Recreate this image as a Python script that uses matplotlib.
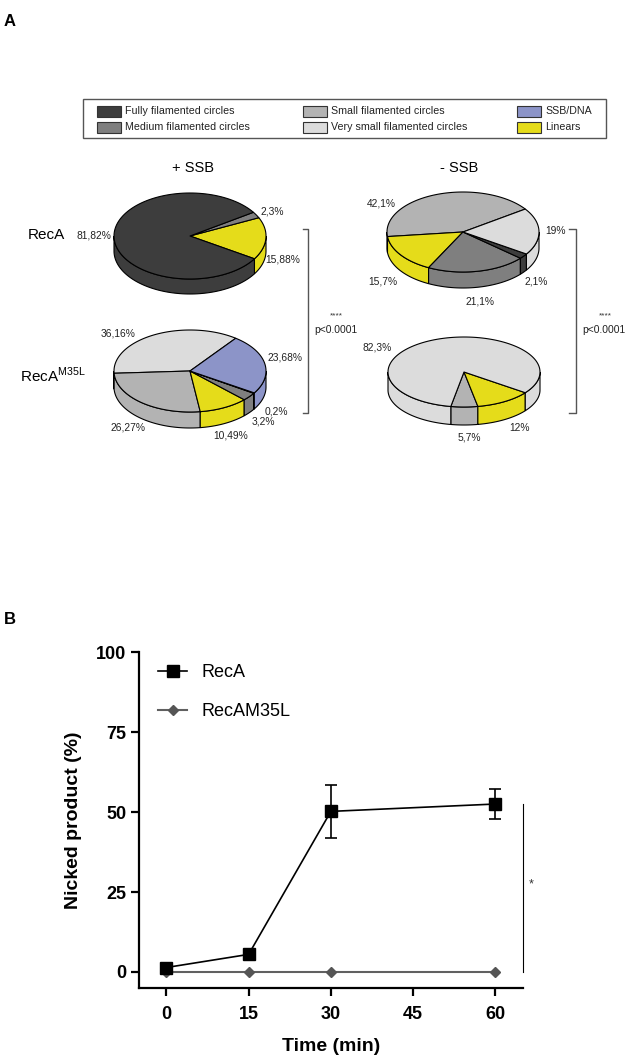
import numpy as np
import matplotlib
matplotlib.use("Agg")
import matplotlib.pyplot as plt
from matplotlib.patches import Polygon, Rectangle

plt.rcParams['font.family'] = ['Liberation Sans', 'DejaVu Sans']

# ---- panel A data ----
cat_names = ["Fully filamented circles", "Medium filamented circles",
             "Small filamented circles", "Very small filamented circles",
             "SSB/DNA", "Linears"]
cat_colors = {"full": "#3d3d3d", "medium": "#7f7f7f", "small": "#b3b3b3",
              "vsmall": "#dcdcdc", "ssb": "#8c94c8", "lin": "#e5dc1a"}
legend_keys = ["full", "medium", "small", "vsmall", "ssb", "lin"]

# slices in drawing order (counterclockwise from start angle)
recA_ssb_keys = ["lin", "medium", "full"]
recA_ssb_vals = [15.88, 2.3, 81.82]
recA_ssb_labels = ["15,88%", "2,3%", "81,82%"]

recA_nossb_keys = ["small", "lin", "medium", "full", "vsmall"]
recA_nossb_vals = [42.1, 15.7, 21.1, 2.1, 19.0]
recA_nossb_labels = ["42,1%", "15,7%", "21,1%", "2,1%", "19%"]

m35l_ssb_keys = ["vsmall", "small", "lin", "medium", "full", "ssb"]
m35l_ssb_vals = [36.16, 26.27, 10.49, 3.2, 0.2, 23.68]
m35l_ssb_labels = ["36,16%", "26,27%", "10,49%", "3,2%", "0,2%", "23,68%"]

m35l_nossb_keys = ["small", "lin", "vsmall"]
m35l_nossb_vals = [5.7, 12.0, 82.3]
m35l_nossb_labels = ["5,7%", "12%", "82,3%"]

# ---- panel B data ----
time_min = [0, 15, 30, 60]
recA_nicked = [1.4, 5.5, 50.2, 52.5]
recA_err = [0, 0, 8.2, 4.8]
m35l_nicked = [0, 0, 0, 0]


def pie3d(ax, cx, cy, rx, ry, depth, keys, vals, start, label_pos, labels):
    angles = start + np.cumsum([0] + list(vals)) / 100.0 * 360.0
    cols = [cat_colors[k] for k in keys]
    # front walls
    for i in range(len(vals)):
        a0, a1 = angles[i], angles[i + 1]
        for base in (-180, 180, 540):
            lo = max(a0, base)
            hi = min(a1, base + 180)
            if hi > lo:
                t = np.radians(np.linspace(lo, hi, 80))
                xs = cx + rx * np.cos(t)
                ys = cy - ry * np.sin(t)
                pts = np.column_stack([np.r_[xs, xs[::-1]],
                                       np.r_[ys, ys[::-1] + depth]])
                ax.add_patch(Polygon(pts, closed=True, fc=cols[i], ec='black', lw=0.8))
    # top surface
    for i in range(len(vals)):
        t = np.radians(np.linspace(angles[i], angles[i + 1], 120))
        xs = np.r_[cx, cx + rx * np.cos(t)]
        ys = np.r_[cy, cy - ry * np.sin(t)]
        ax.add_patch(Polygon(np.column_stack([xs, ys]), closed=True,
                             fc=cols[i], ec='black', lw=0.8, joinstyle='round'))
    for (lx, ly), s in zip(label_pos, labels):
        ax.text(lx, ly, s, fontsize=7.4, ha='center', va='center', color='#222222')


fig = plt.figure(figsize=(6.29, 10.62), dpi=100)
axA = fig.add_axes([0, 0, 1, 1])
axA.set_xlim(0, 629)
axA.set_ylim(1062, 0)
axA.axis('off')

axA.text(10, 21, "A", fontsize=12, fontweight='bold', ha='center', va='center')
axA.text(10, 619, "B", fontsize=12, fontweight='bold', ha='center', va='center')

# legend box
axA.add_patch(Rectangle((83, 99), 523, 39, fc='white', ec='#555555', lw=1.0))
leg_x = [97, 97, 303, 303, 517, 517]
leg_y = [111.5, 127.5, 111.5, 127.5, 111.5, 127.5]
for k, name, lx, ly in zip(legend_keys, cat_names, leg_x, leg_y):
    axA.add_patch(Rectangle((lx, ly - 5.5), 24, 11, fc=cat_colors[k], ec='#333333', lw=0.8))
    axA.text(lx + 28, ly, name, fontsize=7.7, ha='left', va='center', color='#222222')

axA.text(193, 168, "+ SSB", fontsize=10.5, ha='center', va='center')
axA.text(459, 168, "- SSB", fontsize=10.5, ha='center', va='center')
axA.text(28, 235, "RecA", fontsize=11, ha='left', va='center')
axA.text(20, 375, r"RecA$^{\mathregular{M35L}}$", fontsize=11, ha='left', va='center')

pie3d(axA, 190, 236, 76, 43, 15, recA_ssb_keys, recA_ssb_vals, -32,
      [(283, 259), (272, 212), (94, 235)], recA_ssb_labels)
pie3d(axA, 463, 232, 76, 40, 16, recA_nossb_keys, recA_nossb_vals, 35,
      [(381, 203), (383, 282), (480, 302), (536, 281), (556, 231)], recA_nossb_labels)
pie3d(axA, 190, 371, 76, 41, 16, m35l_ssb_keys, m35l_ssb_vals, 53,
      [(118, 334), (128, 428), (231, 436), (263, 421), (276, 412), (285, 357)], m35l_ssb_labels)
pie3d(axA, 464, 372, 76, 35, 18, m35l_nossb_keys, m35l_nossb_vals, -100,
      [(469, 437), (520, 428), (377, 347)], m35l_nossb_labels)

# significance brackets
for bx, tick in ((308, 5), (576, 7)):
    axA.plot([bx - tick, bx, bx, bx - tick], [229, 229, 413, 413], color='#555555', lw=1.0)
axA.text(336, 316, "****", fontsize=6, ha='center', va='center', color='#333333')
axA.text(336, 330, "p<0.0001", fontsize=7.4, ha='center', va='center', color='#222222')
axA.text(605, 316, "****", fontsize=6, ha='center', va='center', color='#333333')
axA.text(604, 330, "p<0.0001", fontsize=7.4, ha='center', va='center', color='#222222')

# ---- panel B ----
ax = fig.add_axes([0.221, 0.0697, 0.610, 0.3163])
ax.errorbar(time_min, recA_nicked, yerr=recA_err, fmt='none', ecolor='black',
            capsize=4, elinewidth=1.2, capthick=1.2, zorder=3)
l1, = ax.plot(time_min, recA_nicked, color='black', lw=1.2, marker='s',
              markersize=8.6, label='RecA', zorder=4)
l2, = ax.plot(time_min, m35l_nicked, color='#606060', lw=1.5, marker='D',
              markersize=5.5, markerfacecolor='#555555', markeredgecolor='#555555',
              label='RecAM35L', zorder=2)
ax.set_xlim(-5, 65)
ax.set_ylim(-5, 100)
ax.set_xticks([0, 15, 30, 45, 60])
ax.set_yticks([0, 25, 50, 75, 100])
for s in ('top', 'right'):
    ax.spines[s].set_visible(False)
for s in ('left', 'bottom'):
    ax.spines[s].set_linewidth(1.6)
ax.tick_params(width=1.6, length=6, labelsize=13, pad=3)
ax.tick_params(axis='x', pad=7)
for lab in ax.get_xticklabels() + ax.get_yticklabels():
    lab.set_fontweight('bold')
ax.set_xlabel("Time (min)", fontsize=14, fontweight='bold', labelpad=11)
ax.set_ylabel("Nicked product (%)", fontsize=14, fontweight='bold', labelpad=10)

ax.plot([65, 65], [0, 52.6], color='black', lw=0.8, clip_on=False)
ax.text(66.6, 27.5, "*", fontsize=9, ha='center', va='center', color='#333333')

ax.legend(handles=[l1, l2], loc='upper left', bbox_to_anchor=(0.05, 0.965),
          frameon=False, fontsize=13, handlelength=1.6, handletextpad=0.8,
          labelspacing=1.25, borderpad=0, borderaxespad=0)

fig.savefig("out.png", dpi=100)
